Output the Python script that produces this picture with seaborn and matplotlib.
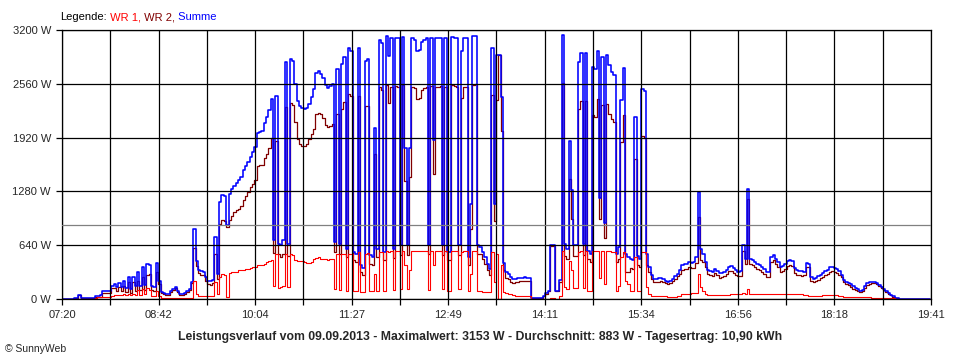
import matplotlib

matplotlib.use("Agg")
import matplotlib.pyplot as plt
import numpy as np
import pandas as pd
import seaborn as sns

# %%
# Messwerte in W, alle 2 Minuten ab 07:20 (eine Zeile = 30 Minuten)
wr1 = [
    0, 0, 0, 0, 0, 0, 0, 0, 0, 0, 0, 0, 0, 5, 15,
    20, 20, 25, 25, 25, 25, 35, 45, 50, 50, 45, 60, 50, 60, 45,
    60, 50, 110, 50, 120, 60, 130, 110, 40, 40, 100, 30, 10, 10, 10,
    10, 10, 10, 10, 10, 10, 10, 10, 10, 10, 15, 220, 60, 40, 40,
    40, 40, 40, 40, 40, 200, 60, 260, 300, 290, 20, 310, 320, 320, 325,
    340, 345, 350, 355, 360, 365, 375, 385, 400, 400, 400, 415, 440, 450, 460,
    150, 540, 130, 140, 160, 540, 140, 530, 520, 460, 450, 450, 450, 445, 430,
    425, 440, 480, 490, 500, 480, 475, 470, 465, 470, 480, 120, 540, 110, 540,
    540, 100, 540, 540, 100, 100, 560, 80, 80, 540, 550, 100, 100, 300, 100,
    560, 560, 100, 575, 560, 575, 110, 575, 575, 120, 575, 400, 120, 350, 575,
    575, 570, 570, 575, 575, 575, 110, 575, 400, 575, 575, 575, 120, 575, 100,
    100, 575, 575, 575, 120, 560, 575, 575, 100, 300, 575, 575, 100, 90, 85,
    80, 80, 80, 560, 200, 540, 0, 400, 80, 70, 60, 55, 45, 40, 40,
    40, 40, 40, 40, 40, 0, 0, 0, 0, 0, 0, 5, 5, 10, 10,
    0, 0, 30, 575, 140, 120, 450, 350, 130, 130, 560, 575, 130, 575, 100,
    100, 575, 575, 575, 250, 575, 180, 575, 575, 560, 560, 100, 150, 500, 560,
    220, 180, 100, 100, 500, 100, 100, 560, 560, 140, 60, 40, 40, 40, 40,
    40, 35, 30, 28, 28, 28, 28, 30, 40, 55, 60, 62, 65, 67, 68,
    70, 300, 140, 100, 60, 50, 50, 50, 50, 50, 50, 50, 50, 50, 50,
    55, 55, 55, 55, 60, 70, 60, 120, 60, 60, 60, 60, 60, 60, 60,
    60, 60, 60, 60, 60, 60, 60, 60, 60, 60, 60, 60, 60, 58, 55,
    60, 45, 45, 40, 40, 40, 40, 40, 40, 45, 48, 48, 48, 48, 48,
    45, 40, 30, 28, 28, 28, 28, 28, 28, 25, 20, 20, 20, 20, 20,
    15, 15, 12, 12, 12, 12, 12, 10, 8, 6, 4, 0, 0, 0, 0,
    0, 0, 0, 0, 0, 0, 0, 0, 0, 0, 0,
]
wr2 = [
    0, 0, 0, 0, 0, 10, 10, 50, 12, 12, 12, 12, 12, 7, 25,
    20, 25, 75, 75, 75, 75, 125, 135, 90, 140, 95, 150, 80, 200, 75,
    200, 100, 210, 110, 260, 110, 290, 300, 110, 100, 325, 180, 70, 60, 50,
    50, 80, 110, 130, 80, 50, 45, 60, 80, 110, 185, 610, 390, 310, 290,
    280, 220, 180, 170, 185, 540, 240, 890, 940, 930, 860, 940, 990, 1030, 1055,
    1070, 1110, 1180, 1230, 1270, 1330, 1370, 1420, 1580, 1590, 1600, 1680, 1730, 1800, 1920,
    550, 1880, 530, 500, 540, 2280, 510, 2330, 2310, 2100, 1900, 1840, 1820, 1815, 1840,
    1900, 1960, 2020, 2200, 2210, 2200, 2150, 2070, 2050, 2060, 2080, 560, 2200, 540, 2260,
    2340, 500, 2440, 2410, 460, 440, 2420, 320, 290, 2290, 2300, 420, 400, 1730, 500,
    2525, 2485, 460, 2550, 2330, 2525, 490, 2535, 2525, 520, 2545, 1400, 520, 1450, 2525,
    2510, 2380, 2390, 2485, 2505, 2525, 530, 2535, 1490, 2525, 2525, 2535, 520, 2525, 460,
    460, 2545, 2535, 2525, 520, 2390, 2525, 2525, 400, 830, 2550, 2555, 540, 530, 475,
    420, 340, 280, 2425, 930, 2365, 2900, 2000, 350, 250, 240, 205, 195, 200, 205,
    215, 215, 217, 215, 210, 15, 12, 12, 12, 12, 30, 65, 95, 630, 630,
    100, 100, 200, 2570, 510, 480, 1430, 950, 510, 510, 2260, 2350, 520, 2350, 475,
    435, 2185, 2165, 2375, 950, 2305, 720, 2325, 2205, 2140, 2100, 440, 470, 1870, 2190,
    320, 320, 370, 360, 1670, 410, 380, 1940, 1920, 400, 320, 240, 200, 200, 205,
    210, 205, 185, 177, 187, 212, 242, 270, 300, 345, 360, 358, 375, 363, 372,
    430, 970, 460, 440, 380, 300, 280, 270, 305, 280, 255, 260, 275, 300, 330,
    335, 310, 285, 270, 270, 570, 420, 1190, 420, 400, 380, 355, 340, 325, 300,
    260, 260, 440, 460, 420, 380, 320, 335, 360, 390, 400, 395, 305, 282, 280,
    270, 280, 385, 380, 220, 200, 215, 230, 250, 265, 282, 297, 327, 332, 322,
    315, 290, 260, 197, 177, 162, 147, 122, 102, 90, 80, 90, 130, 165, 180,
    190, 190, 173, 153, 128, 108, 88, 65, 42, 24, 11, 8, 5, 5, 5,
    5, 5, 5, 5, 5, 5, 5, 5, 5, 5, 5,
]
durchschnitt = 883
y_ticks = [0, 640, 1280, 1920, 2560, 3200]
x_labels = ["07:20", "08:42", "10:04", "11:27", "12:49", "14:11", "15:34", "16:56", "18:18", "19:41"]
tag_minuten = 741  # 07:20 bis 19:41
titel = (
    "Leistungsverlauf vom 09.09.2013 - Maximalwert: 3153 W - "
    "Durchschnitt: 883 W - Tagesertrag: 10,90 kWh"
)

# %%
df = pd.DataFrame({"WR 1": wr1, "WR 2": wr2})
df["Summe"] = df["WR 1"] + df["WR 2"]
df["minute"] = np.arange(len(df)) * 2

# %%
sns.set_style("white")
plt.rcParams["font.family"] = ["Liberation Sans", "DejaVu Sans"]

fig = plt.figure(figsize=(9.6, 3.6), dpi=100)
ax = fig.add_axes([62 / 960, 61 / 360, 869 / 960, 269 / 360])

farben = {"WR 1": "#ff0000", "WR 2": "#800000", "Summe": "#0000ff"}
breiten = {"WR 1": 0.8, "WR 2": 0.9, "Summe": 1.15}
for col in ["WR 2", "Summe", "WR 1"]:
    sns.lineplot(
        data=df,
        x="minute",
        y=col,
        color=farben[col],
        linewidth=breiten[col],
        drawstyle="steps-post",
        estimator=None,
        legend=False,
        ax=ax,
    )

ax.axhline(durchschnitt, color="#808080", linewidth=0.9, zorder=2.6)

# grid every half label step
xt = np.linspace(0, tag_minuten, 2 * len(x_labels) - 1)
labels = []
for lab in x_labels:
    labels += [lab, ""]
ax.set_xticks(xt, labels[:-1])
ax.set_yticks(y_ticks, [f"{v} W" for v in y_ticks])
ax.set_xlim(0, tag_minuten)
ax.set_ylim(0, y_ticks[-1])
ax.set_xlabel("")
ax.set_ylabel("")
ax.set_axisbelow(False)
ax.grid(True, color="black", linewidth=0.9)
ax.tick_params(
    axis="both", bottom=True, left=True, length=4, width=0.9, color="black",
    labelsize=8, pad=4,
)
for s in ax.spines.values():
    s.set_color("black")
    s.set_linewidth(0.9)

fig.text(0.5, 1 - 337 / 360, titel, ha="center", va="center", fontsize=8.8, fontweight="bold")
fig.text(5 / 960, 1 - 349 / 360, "© SunnyWeb", fontsize=7.5, va="center")

# legend text in several colours
fig.canvas.draw()
r = fig.canvas.get_renderer()
x = 60
for txt, col in zip(["Legende:", " WR 1,", " WR 2,", " Summe"], ["black", farben["WR 1"], farben["WR 2"], farben["Summe"]]):
    t = fig.text(x / 960, 1 - 17 / 360, txt, color=col, fontsize=8, va="center")
    x += t.get_window_extent(r).width

fig.savefig("out.png", dpi=100)
